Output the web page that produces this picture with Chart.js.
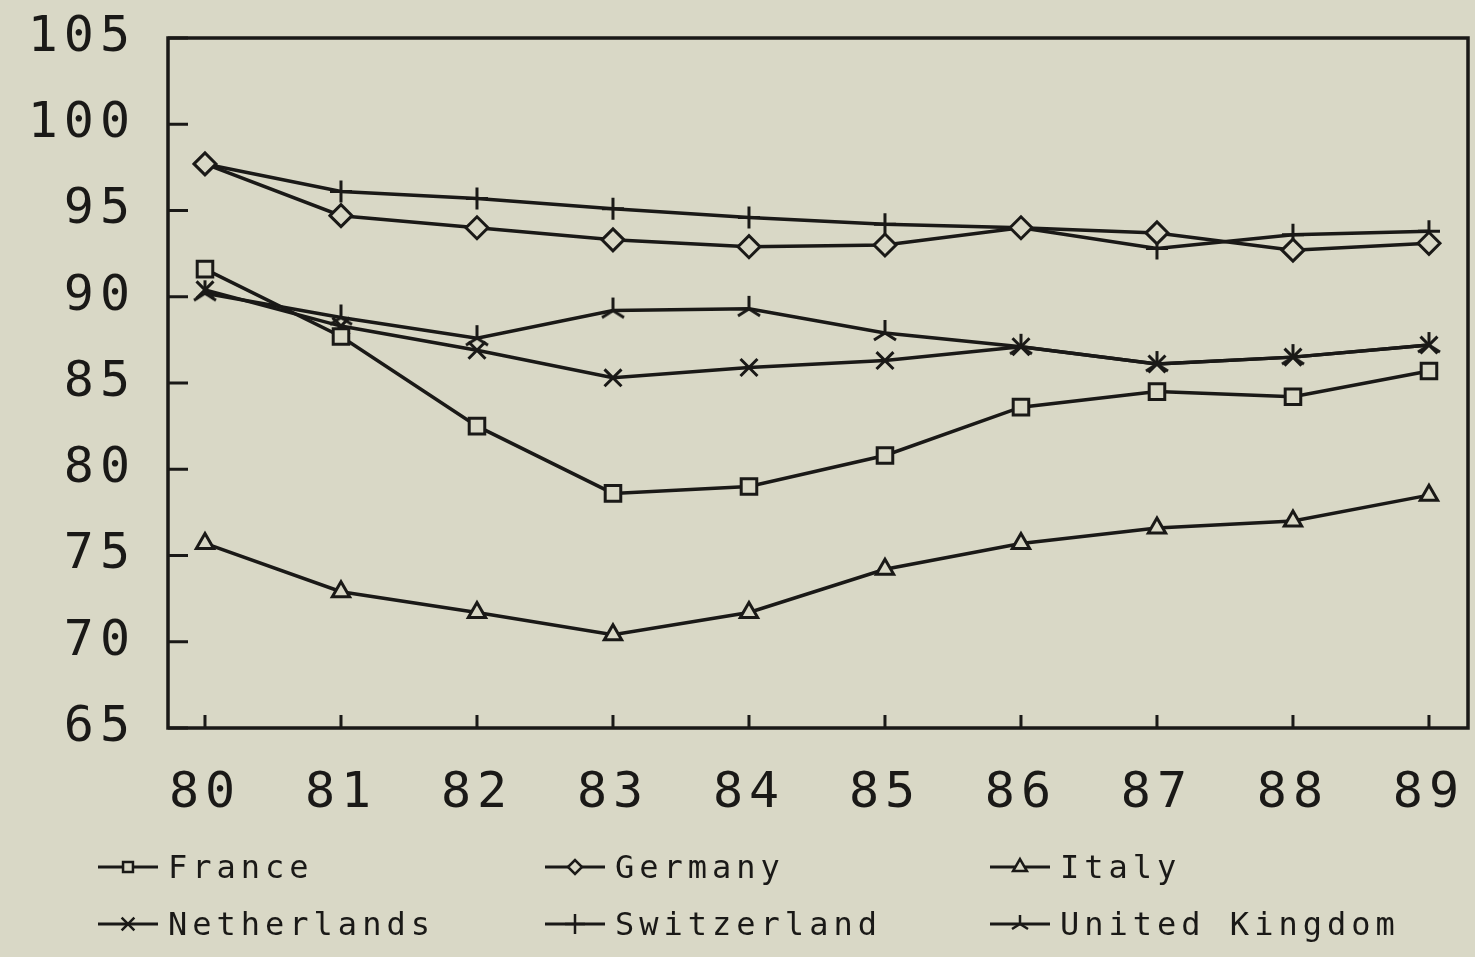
<!DOCTYPE html>
<html>
<head>
<meta charset="utf-8">
<script src="https://cdn.jsdelivr.net/npm/chart.js@4.4.1/dist/chart.umd.min.js"></script>
<style>
html,body{margin:0;padding:0;background:#d9d8c6;}
#wrap{width:1475px;height:957px;position:relative;}
</style>
</head>
<body>
<div id="wrap"><canvas id="chart" width="1475" height="957"></canvas></div>
<script>
// index values 1980-1989
const years = [80, 81, 82, 83, 84, 85, 86, 87, 88, 89];
const yTicks = [65, 70, 75, 80, 85, 90, 95, 100, 105];

const france      = [91.6, 87.7, 82.5, 78.6, 79.0, 80.8, 83.6, 84.5, 84.2, 85.7];
const germany     = [97.7, 94.7, 94.0, 93.3, 92.9, 93.0, 94.0, 93.7, 92.7, 93.1];
const italy       = [75.7, 72.9, 71.7, 70.4, 71.7, 74.2, 75.7, 76.6, 77.0, 78.5];
const netherlands = [90.4, 88.3, 86.9, 85.3, 85.9, 86.3, 87.1, 86.1, 86.5, 87.2];
const switzerland = [97.7, 96.1, 95.7, 95.1, 94.6, 94.2, 94.0, 92.8, 93.6, 93.8];
const uk          = [90.2, 88.8, 87.6, 89.2, 89.3, 87.9, 87.1, 86.1, 86.5, 87.2];

const INK = "#1a1917";
const PAPER = "#d9d8c6";
const FONT = "'DejaVu Sans Mono', monospace";

// three-armed mark used for United Kingdom
function starMark(size, up, leg, drop, lw){
    const c = document.createElement("canvas");
    c.width = size; c.height = size;
    const g = c.getContext("2d");
    const m = size / 2;
    g.strokeStyle = INK;
    g.lineWidth = lw;
    g.beginPath();
    g.moveTo(m, m - up);
    g.lineTo(m, m);
    g.moveTo(m - leg, m + drop);
    g.lineTo(m, m);
    g.lineTo(m + leg, m + drop);
    g.stroke();
    return c;
}
const ukMark = starMark(32, 13, 11, 7, 3);
const ukMarkSmall = starMark(22, 9, 8, 5, 2.5);

const series = [
    {label: "France",         data: france,      style: "rect",     r: 11, lr: 7},
    {label: "Germany",        data: germany,     style: "rectRot",  r: 11, lr: 7},
    {label: "Italy",          data: italy,       style: "triangle", r: 10, lr: 8},
    {label: "Netherlands",    data: netherlands, style: "crossRot", r: 12, lr: 9},
    {label: "Switzerland",    data: switzerland, style: "cross",    r: 11, lr: 10},
    {label: "United Kingdom", data: uk,          style: ukMark,     r: 11, lr: 7, small: ukMarkSmall}
];

const datasets = series.map(s => ({
    label: s.label,
    data: years.map((y, i) => ({x: y, y: s.data[i]})),
    borderColor: INK,
    borderWidth: 3.5,
    tension: 0,
    clip: false,
    pointStyle: s.style,
    pointRadius: s.r,
    pointBorderWidth: 3,
    pointBorderColor: INK,
    pointBackgroundColor: PAPER
}));

// frame and inward tick marks
const framePlugin = {
    id: "frame",
    beforeDraw(chart){
        chart.ctx.letterSpacing = "6px";
    },
    afterDatasetsDraw(chart){
        const {ctx, chartArea: a, scales} = chart;
        ctx.save();
        ctx.strokeStyle = INK;
        ctx.lineWidth = 3.5;
        ctx.strokeRect(a.left, a.top, a.right - a.left, a.bottom - a.top);
        ctx.beginPath();
        years.forEach(v => {
            const px = scales.x.getPixelForValue(v);
            ctx.moveTo(px, a.bottom);
            ctx.lineTo(px, a.bottom - 13);
        });
        yTicks.forEach(v => {
            const py = scales.y.getPixelForValue(v);
            ctx.moveTo(a.left, py);
            ctx.lineTo(a.left + 20, py);
        });
        ctx.lineWidth = 3;
        ctx.stroke();
        ctx.restore();
    }
};

// legend in three columns under the axis
const legendPlugin = {
    id: "gridLegend",
    afterDraw(chart){
        const ctx = chart.ctx;
        const colX = [98, 545, 990];
        const rowY = [867, 924];
        ctx.save();
        ctx.letterSpacing = "5px";
        ctx.font = "32px " + FONT;
        ctx.textBaseline = "middle";
        ctx.textAlign = "left";
        series.forEach((s, i) => {
            const x0 = colX[i % 3];
            const y = rowY[Math.floor(i / 3)];
            ctx.strokeStyle = INK;
            ctx.lineWidth = 3;
            ctx.beginPath();
            ctx.moveTo(x0, y);
            ctx.lineTo(x0 + 60, y);
            ctx.stroke();
            ctx.fillStyle = PAPER;
            ctx.lineWidth = 2.5;
            Chart.helpers.drawPoint(ctx, {
                pointStyle: s.small || s.style,
                radius: s.lr,
                borderWidth: 2.5,
                rotation: 0
            }, x0 + 30, y);
            ctx.fillStyle = INK;
            ctx.fillText(s.label, x0 + 70, y + 3);
        });
        ctx.restore();
    }
};

new Chart(document.getElementById("chart"), {
    type: "line",
    data: {datasets: datasets},
    options: {
        responsive: false,
        animation: false,
        layout: {autoPadding: false, padding: {top: 38, right: 7, left: 0, bottom: 0}},
        plugins: {legend: {display: false}, tooltip: {enabled: false}},
        scales: {
            x: {
                type: "linear",
                min: 79.728,
                max: 89.287,
                grid: {display: false, drawTicks: false},
                border: {display: false},
                afterBuildTicks: scale => { scale.ticks = years.map(v => ({value: v})); },
                afterFit: scale => {
                    scale.height = 229;
                    scale.paddingLeft = 0;
                    scale.paddingRight = 0;
                },
                ticks: {
                    color: INK,
                    padding: 36,
                    maxRotation: 0,
                    autoSkip: false,
                    font: {family: FONT, size: 50},
                    callback: v => String(v)
                }
            },
            y: {
                min: 65,
                max: 105,
                grid: {display: false, drawTicks: false},
                border: {display: false},
                afterBuildTicks: scale => { scale.ticks = yTicks.map(v => ({value: v})); },
                afterFit: scale => {
                    scale.width = 168;
                    scale.paddingTop = 0;
                    scale.paddingBottom = 0;
                },
                ticks: {
                    color: INK,
                    padding: 32,
                    font: {family: FONT, size: 50}
                }
            }
        }
    },
    plugins: [framePlugin, legendPlugin]
});
</script>
</body>
</html>
